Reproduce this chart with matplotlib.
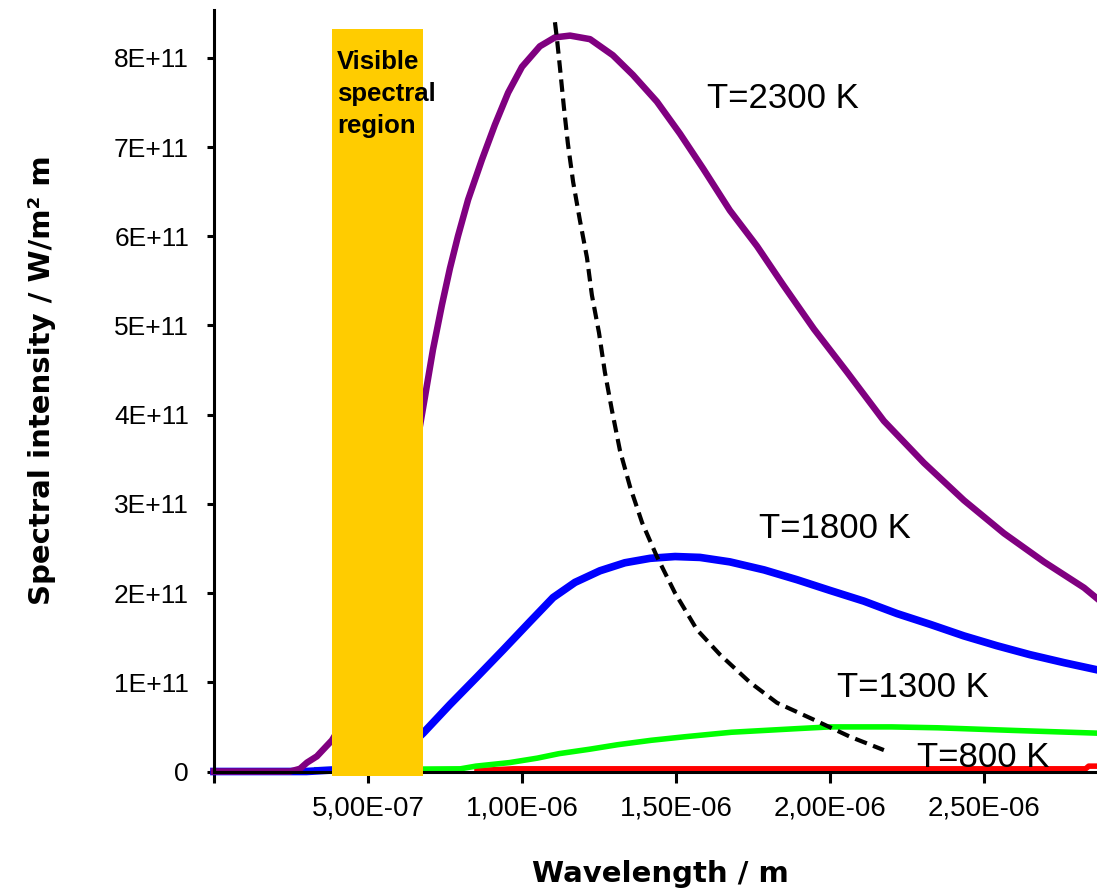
import matplotlib.pyplot as plt

# wavelength in micrometres, spectral intensity in units of 1E+11 W/m^2 m
t2300_x = [0.0, 0.247, 0.279, 0.302, 0.334, 0.383, 0.442, 0.506, 0.571, 0.636,
           0.685, 0.711, 0.740, 0.766, 0.792, 0.825, 0.870, 0.912, 0.955, 1.000,
           1.058, 1.107, 1.156, 1.221, 1.295, 1.360, 1.438, 1.513, 1.588, 1.675,
           1.763, 1.847, 1.948, 2.055, 2.175, 2.305, 2.435, 2.565, 2.695, 2.825, 2.867]
t2300_y = [0.0, 0.0, 0.03, 0.10, 0.17, 0.35, 0.68, 1.27, 2.12, 3.22,
           4.20, 4.73, 5.23, 5.64, 6.00, 6.41, 6.86, 7.25, 7.61, 7.90,
           8.13, 8.23, 8.25, 8.21, 8.03, 7.81, 7.51, 7.15, 6.76, 6.29,
           5.89, 5.46, 4.96, 4.48, 3.93, 3.46, 3.04, 2.67, 2.35, 2.06, 1.94]

t1800_x = [0.0, 0.30, 0.45, 0.55, 0.62, 0.679, 0.766, 0.854, 0.938, 1.026,
           1.101, 1.172, 1.253, 1.334, 1.416, 1.497, 1.578, 1.675, 1.786, 1.893,
           2.000, 2.110, 2.218, 2.325, 2.435, 2.542, 2.649, 2.760, 2.867]
t1800_y = [0.0, 0.0, 0.03, 0.12, 0.24, 0.43, 0.75, 1.06, 1.36, 1.68,
           1.95, 2.12, 2.25, 2.34, 2.39, 2.41, 2.40, 2.35, 2.26, 2.15,
           2.03, 1.91, 1.77, 1.65, 1.52, 1.41, 1.31, 1.22, 1.14]

t1300_x = [0.334, 0.80, 0.85, 0.96, 1.05, 1.12, 1.22, 1.31, 1.42, 1.53,
           1.68, 1.89, 2.00, 2.20, 2.35, 2.60, 2.867]
t1300_y = [0.02, 0.03, 0.06, 0.10, 0.15, 0.20, 0.25, 0.30, 0.35, 0.39,
           0.44, 0.48, 0.50, 0.50, 0.49, 0.46, 0.43]

t800_x = [0.854, 0.97, 2.83, 2.84, 2.867]
t800_y = [0.01, 0.03, 0.03, 0.06, 0.06]

# locus of the maxima (dashed)
peak_x = [1.107, 1.114, 1.123, 1.136, 1.149, 1.166, 1.188, 1.211, 1.227, 1.250,
          1.269, 1.292, 1.318, 1.351, 1.390, 1.438, 1.497, 1.568, 1.643, 1.740,
          1.828, 1.948, 2.065, 2.175]
peak_y = [8.40, 8.20, 7.90, 7.45, 7.04, 6.61, 6.18, 5.76, 5.34, 4.92,
          4.48, 4.05, 3.60, 3.19, 2.79, 2.41, 2.00, 1.59, 1.31, 1.00,
          0.77, 0.58, 0.39, 0.24]

# visible band
vis_left, vis_right = 0.383, 0.679
vis_bottom, vis_top = -0.047, 8.32

x_ticks = [0.0, 0.5, 1.0, 1.5, 2.0, 2.5]
x_tick_labels = ["", "5,00E-07", "1,00E-06", "1,50E-06", "2,00E-06", "2,50E-06"]
y_ticks = [0, 1, 2, 3, 4, 5, 6, 7, 8]
y_tick_labels = ["0", "1E+11", "2E+11", "3E+11", "4E+11", "5E+11", "6E+11", "7E+11", "8E+11"]

UM = 1e-6
E11 = 1e11
W, H = 1097, 889


def um(v):
    return [a * UM for a in v]


def e11(v):
    return [a * E11 for a in v]


fig = plt.figure(figsize=(W / 100, H / 100), dpi=100)
ax = fig.add_axes([214 / W, (H - 771.5) / H, (W - 214) / W, (771.5 - 10) / H])

ax.plot(um(t800_x), e11(t800_y), color="#FF0000", lw=4.0, zorder=2, clip_on=False)
ax.plot(um(t1300_x), e11(t1300_y), color="#00FF00", lw=4.0, zorder=2.1, clip_on=False)
ax.plot(um(t1800_x), e11(t1800_y), color="#0000FF", lw=5.5, zorder=2.2, clip_on=False,
        solid_joinstyle="round")
ax.plot(um(t2300_x), e11(t2300_y), color="#800080", lw=4.7, zorder=2.3, clip_on=False,
        solid_joinstyle="round")
ax.plot(um(peak_x), e11(peak_y), color="black", lw=3.0, ls=(0, (3, 1.6)), zorder=4)

ax.bar(vis_left * UM, (vis_top - vis_bottom) * E11, width=(vis_right - vis_left) * UM,
       bottom=vis_bottom * E11, align="edge", color="#FFCC00", zorder=5, clip_on=False)

ax.set_xlim(0, 2.867 * UM)
ax.set_ylim(0, (771.5 - 10) / 89.2 * E11)

ax.set_xticks(um(x_ticks))
ax.set_xticklabels(x_tick_labels, fontsize=20, family="Liberation Sans")
ax.set_yticks(e11(y_ticks))
ax.set_yticklabels(y_tick_labels, fontsize=19, family="Liberation Sans")
ax.tick_params(axis="x", length=8, width=2.2, pad=9, direction="out")
ax.tick_params(axis="y", length=5, width=2.2, pad=13, direction="out")

for s in ["top", "right"]:
    ax.spines[s].set_visible(False)
for s in ["left", "bottom"]:
    ax.spines[s].set_linewidth(2.2)

ax.patch.set_visible(False)


def ftext(px, py, s, **kw):
    fig.text(px / W, 1 - py / H, s, **kw)


# baseline of the last line
ftext(337, 133, "Visible\nspectral\nregion", fontsize=18.5, fontweight="bold",
      family="Liberation Sans", va="baseline", ha="left", linespacing=1.41, zorder=7)

ftext(707, 108, "T=2300 K", fontsize=25, family="Liberation Sans", va="baseline")
ftext(759, 538, "T=1800 K", fontsize=25, family="Liberation Sans", va="baseline")
ftext(837, 697, "T=1300 K", fontsize=25, family="Liberation Sans", va="baseline")
ftext(917, 767, "T=800 K", fontsize=25, family="Liberation Sans", va="baseline", zorder=8)

ftext(660, 882, "Wavelength / m", fontsize=21, fontweight="bold",
      family="DejaVu Sans", ha="center", va="baseline")
ftext(42, 380, "Spectral intensity / W/m² m", fontsize=21, fontweight="bold",
      family="DejaVu Sans", ha="center", va="center", rotation=90)

fig.savefig("out.png", dpi=100)
